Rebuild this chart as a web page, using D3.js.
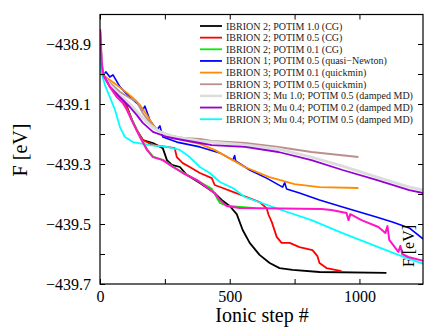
<!DOCTYPE html>
<html><head><meta charset="utf-8">
<script src="https://cdn.jsdelivr.net/npm/d3@7"></script>
<style>body{margin:0;background:#fff}svg{display:block}</style>
</head><body>
<svg id="chart" width="424" height="334"></svg>
<script>
// ---- data ----
const xTicks = [0, 250, 500, 750, 1000, 1250];
const xTickLabels = [0, 500, 1000];
const yTicks = [-438.8, -438.9, -439.0, -439.1, -439.2, -439.3, -439.4, -439.5, -439.6, -439.7];
const yTickLabels = [-438.9, -439.1, -439.3, -439.5, -439.7];

const labels = [
  "IBRION 2; POTIM 1.0 (CG)",
  "IBRION 2; POTIM 0.5 (CG)",
  "IBRION 2; POTIM 0.1 (CG)",
  "IBRION 1; POTIM 0.5 (quasi\u2212Newton)",
  "IBRION 3; POTIM 0.1 (quickmin)",
  "IBRION 3; POTIM 0.5 (quickmin)",
  "IBRION 3; Mu 1.0; POTIM 0.5 (damped MD)",
  "IBRION 3; Mu 0.4; POTIM 0.2 (damped MD)",
  "IBRION 3; Mu 0.4; POTIM 0.5 (damped MD)"
];
const colors = ["#000000","#ff0000","#00ee00","#0000ff","#ff8c00","#bc8f8f","#dcdcdc","#9400d3","#00ffff","#ff14c8"];

const startSteps = [0, 3, 6, 12];
const startF = [-438.85, -438.90, -438.96, -439.003];

const cgBlack = [[38,-439.030],[77,-439.077],[104,-439.110],[123,-439.153],[142,-439.187],[165,-439.220],[204,-439.230],[242,-439.247],[258,-439.287],[277,-439.303],[308,-439.310],[335,-439.337],[385,-439.363],[442,-439.397],[469,-439.420],[500,-439.440],[527,-439.467],[550,-439.520],[577,-439.563],[615,-439.603],[654,-439.630],[692,-439.647],[742,-439.653],[846,-439.660],[1104,-439.663]];
const cgRed = [[38,-439.030],[77,-439.077],[104,-439.110],[123,-439.153],[142,-439.187],[165,-439.220],[204,-439.237],[258,-439.243],[288,-439.247],[296,-439.277],[319,-439.297],[346,-439.310],[385,-439.330],[431,-439.347],[442,-439.370],[473,-439.380],[512,-439.393],[565,-439.410],[615,-439.427],[642,-439.447],[650,-439.470],[662,-439.493],[681,-439.543],[700,-439.563],[731,-439.563],[769,-439.577],[819,-439.587],[838,-439.607],[846,-439.630],[873,-439.647],[931,-439.657]];
const cgGreen = [[38,-439.040],[65,-439.075],[88,-439.095],[104,-439.118],[127,-439.160],[154,-439.207],[181,-439.250],[204,-439.275],[242,-439.286],[281,-439.308],[319,-439.328],[385,-439.360],[431,-439.383],[462,-439.430],[492,-439.440],[600,-439.447]];
const qnBlue = [[23,-438.993],[38,-439.010],[50,-439.003],[77,-439.043],[115,-439.077],[142,-439.097],[165,-439.120],[173,-439.107],[192,-439.153],[219,-439.187],[231,-439.173],[242,-439.210],[296,-439.227],[385,-439.243],[462,-439.263],[512,-439.287],[519,-439.272],[523,-439.290],[577,-439.320],[642,-439.347],[704,-439.377],[712,-439.362],[719,-439.383],[769,-439.397],[846,-439.420],[935,-439.443],[1000,-439.460],[1065,-439.477],[1127,-439.493],[1192,-439.513],[1246,-439.550]];
const qmOrange = [[38,-439.020],[65,-439.037],[104,-439.063],[127,-439.080],[154,-439.103],[181,-439.137],[204,-439.170],[231,-439.193],[281,-439.213],[385,-439.233],[442,-439.253],[512,-439.287],[558,-439.310],[650,-439.343],[750,-439.367],[846,-439.377],[996,-439.380]];
const qmBrown = [[27,-439.020],[77,-439.060],[115,-439.080],[142,-439.093],[165,-439.130],[204,-439.177],[258,-439.203],[319,-439.213],[385,-439.217],[431,-439.223],[558,-439.230],[688,-439.243],[815,-439.260],[996,-439.277]];
const mdGray = [[38,-439.037],[77,-439.070],[115,-439.100],[154,-439.137],[192,-439.170],[231,-439.193],[288,-439.210],[385,-439.223],[558,-439.237],[688,-439.250],[815,-439.277],[935,-439.307],[1065,-439.343],[1192,-439.377],[1246,-439.387]];
const mdPurple = [[19,-439.010],[38,-439.043],[77,-439.077],[115,-439.110],[142,-439.137],[165,-439.163],[204,-439.193],[258,-439.210],[319,-439.220],[385,-439.230],[431,-439.237],[558,-439.243],[688,-439.260],[815,-439.287],[935,-439.320],[1065,-439.353],[1192,-439.387],[1246,-439.397]];
const mdCyan = [[0,-438.85],[2,-438.93],[4,-438.99],[19,-439.037],[38,-439.077],[58,-439.120],[77,-439.177],[96,-439.210],[127,-439.227],[192,-439.237],[258,-439.243],[308,-439.253],[346,-439.277],[385,-439.310],[423,-439.330],[462,-439.360],[512,-439.380],[558,-439.410],[688,-439.450],[815,-439.487],[942,-439.533],[1073,-439.577],[1150,-439.603],[1246,-439.633]];
const mdPink = [[38,-439.043],[65,-439.077],[88,-439.097],[104,-439.120],[127,-439.163],[154,-439.210],[181,-439.253],[204,-439.277],[242,-439.287],[281,-439.310],[319,-439.330],[373,-439.353],[415,-439.380],[442,-439.397],[462,-439.420],[488,-439.440],[538,-439.447],[854,-439.450],[892,-439.453],[950,-439.463],[958,-439.487],[965,-439.467],[1008,-439.487],[1073,-439.510],[1100,-439.530],[1108,-439.507],[1115,-439.553],[1150,-439.593],[1158,-439.573],[1165,-439.600],[1188,-439.610],[1246,-439.623]];

// ---- chart ----
const svg = d3.select("#chart");
const x = d3.scaleLinear().domain([0, 1245]).range([100, 423]);
const y = d3.scaleLinear().domain([-439.7, -438.8]).range([284, 14]);
const serif = "Liberation Serif, Tinos, Times New Roman, Times, serif";

svg.append("defs").append("clipPath").attr("id","clip")
  .append("rect").attr("x",100).attr("y",14).attr("width",323).attr("height",270);

const start = startSteps.map((s,i)=>[s,startF[i]]);
const withStart = a => start.concat(a);
const series = [cgBlack, cgRed, cgGreen, qnBlue, qmOrange, qmBrown, mdGray, mdPurple, mdCyan, mdPink]
  .map((a,i)=> i===8 ? a : withStart(a));
const widths = [1.8,1.8,1.8,1.6,1.8,2,3,1.8,1.8,2];

const line = d3.line().x(d=>x(d[0])).y(d=>y(d[1]));
const g = svg.append("g").attr("clip-path","url(#clip)");
series.forEach((s,i)=>{
  g.append("path").attr("d", line(s)).attr("fill","none")
    .attr("stroke", colors[i]).attr("stroke-width", widths[i]).attr("stroke-linejoin","round");
});

// axes
const fmt = v => (v<0 ? "\u2212" : "") + Math.abs(v).toFixed(1);
const axL = d3.axisLeft(y).tickValues(yTicks).tickSize(-5).tickPadding(9)
  .tickFormat(v => yTickLabels.some(t=>Math.abs(t-v)<1e-6) ? fmt(v) : "");
const axR = d3.axisRight(y).tickValues(yTicks).tickSize(-5).tickFormat("");
const axB = d3.axisBottom(x).tickValues(xTicks).tickSize(-5).tickPadding(7)
  .tickFormat(v => xTickLabels.includes(v) ? String(v) : "");
const axT = d3.axisTop(x).tickValues(xTicks).tickSize(-5).tickFormat("");

function style(sel){
  sel.attr("font-family", serif);
  sel.select(".domain").remove();
  sel.selectAll("line").attr("stroke","#000");
  sel.selectAll("text").attr("font-family", serif).attr("font-size",16).attr("fill","#000");
}
svg.append("g").attr("transform","translate(100,0)").call(axL).call(style);
svg.append("g").attr("transform","translate(423,0)").call(axR).call(style);
svg.append("g").attr("transform","translate(0,284)").call(axB).call(style);
svg.append("g").attr("transform","translate(0,14.5)").call(axT).call(style);
svg.append("rect").attr("x",100).attr("y",14.5).attr("width",323).attr("height",269.5)
  .attr("fill","none").attr("stroke","#000").attr("stroke-width",1.2);

// legend
const lg = svg.append("g");
labels.forEach((t,i)=>{
  const yy = 26 + i*11.65;
  lg.append("line").attr("x1",200).attr("x2",222).attr("y1",yy).attr("y2",yy)
    .attr("stroke",colors[i]).attr("stroke-width", i===6 ? 2.5 : 1.8);
  lg.append("text").attr("x",226).attr("y",yy+3.5).text(t)
    .attr("font-family",serif).attr("font-size",10).attr("fill","#222");
});

// axis titles
svg.append("text").attr("x",262).attr("y",322).attr("text-anchor","middle")
  .attr("font-family",serif).attr("font-size",20).text("Ionic step #");
svg.append("text").attr("transform","translate(27,150) rotate(-90)").attr("text-anchor","middle")
  .attr("font-family",serif).attr("font-size",20).text("F [eV]");
svg.append("text").attr("transform","translate(414,246) rotate(-90)").attr("text-anchor","middle")
  .attr("font-family",serif).attr("font-size",16).text("F [eV]");
</script>
</body></html>
